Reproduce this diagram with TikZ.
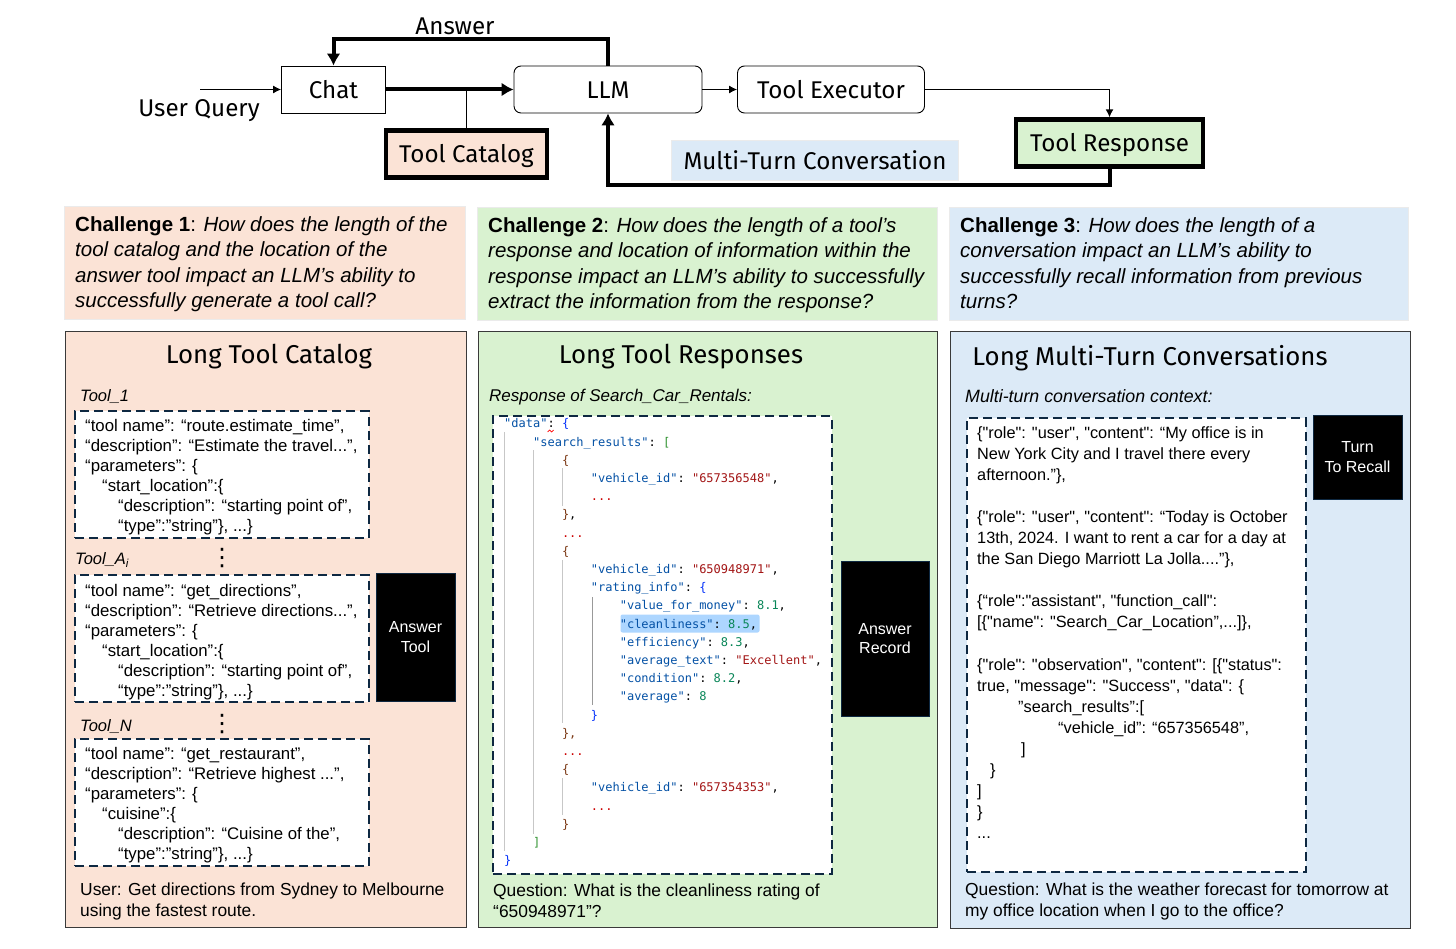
\documentclass[tikz,border=0pt]{standalone}
\usepackage{fontspec}
\setmainfont{Liberation Sans}
\setmonofont{DejaVu Sans Mono}
\newfontfamily\topfont{Fira Sans}
\newfontfamily\convfont{Liberation Sans}
\newfontfamily\dotsfont{DejaVu Sans}
\usetikzlibrary{shapes,arrows.meta}

\definecolor{catalogbg}{HTML}{FBE3D6}
\definecolor{responsebg}{HTML}{D9F2D0}
\definecolor{convbg}{HTML}{DCEAF7}
\definecolor{panelline}{HTML}{3A3A3A}
\definecolor{dashline}{HTML}{0E2841}
\definecolor{jsonkey}{HTML}{0451A5}
\definecolor{jsonstr}{HTML}{A31515}
\definecolor{jsonnum}{HTML}{098658}
\definecolor{jsonbrace}{HTML}{0431FA}
\definecolor{jsonbrown}{HTML}{7B3814}
\definecolor{jsongreen}{HTML}{319331}
\definecolor{jsonhl}{HTML}{ADD6FF}

\newcommand\ind[1]{\hspace*{#1\dimexpr 28.9pt\relax}}
\newcommand\jk[1]{\textcolor{jsonkey}{"#1"}: }
\newcommand\js[1]{\textcolor{jsonstr}{"#1"}}
\newcommand\jn[1]{\textcolor{jsonnum}{#1}}
\newcommand\jdots{\textcolor{red!80!black}{...}}
\newcommand\codeind[1]{\hspace*{#1pt}}

\begin{document}
\begin{tikzpicture}[x=1pt, y=-1pt, node distance=100pt, auto]
        % Define block styles
        \tikzstyle{block} = [rectangle, draw=black, line width=0.9pt, text=black, font=\topfont\fontsize{24.2}{28}\selectfont,
            minimum height=47pt, inner sep=0pt, text height=18pt, text depth=0pt]
        \tikzstyle{roundblock} = [block, rounded corners=7pt]
        \tikzstyle{thickblock} = [block, line width=4.2pt]
        \tikzstyle{panel} = [rectangle, draw=panelline, line width=0.9pt, anchor=north west, inner sep=0pt]
        \tikzstyle{challenge} = [rectangle, draw=black!8, line width=0.4pt, anchor=north west, inner sep=0pt]
        \tikzstyle{challengetext} = [anchor=north west, inner sep=0pt, align=left, font=\fontsize{20.5}{25.35}\selectfont]
        \tikzstyle{title} = [inner sep=0pt, font=\topfont\fontsize{25.8}{30}\selectfont]
        \tikzstyle{dashbox} = [rectangle, draw=dashline, fill=white, dash pattern=on 9pt off 5pt, line width=2.2pt, anchor=north west, inner sep=0pt]
        \tikzstyle{blackbox} = [rectangle, draw=dashline, fill=black, text=white, line width=0.8pt, align=center, inner sep=0pt,
            font=\fontsize{16}{19.5}\selectfont]
        \tikzstyle{toolname} = [anchor=west, inner sep=0pt, font=\itshape\fontsize{16.5}{20}\selectfont]
        \tikzstyle{toolcode} = [anchor=north west, inner sep=0pt, align=left, font=\fontsize{16.8}{20}\selectfont]
        \tikzstyle{convcode} = [anchor=north west, inner sep=0pt, align=left, font=\convfont\fontsize{16.3}{21.1}\selectfont]
        \tikzstyle{question} = [anchor=north west, inner sep=0pt, align=left, font=\fontsize{17.4}{21.3}\selectfont]
        \tikzstyle{vdotsnode} = [inner sep=0pt, font=\dotsfont\fontsize{24}{24}\selectfont]
        \tikzstyle{line} = [draw=black, line width=1pt, -{Latex[length=8pt,width=8pt]}]
        \tikzstyle{thickline} = [draw=black, line width=4pt, -{Latex[length=12pt,width=14pt]}]
        \tikzstyle{guide} = [draw=black!22, line width=1pt]

        \useasboundingbox (0,0) rectangle (1456,949);

        % Top row
        \node [block, minimum width=104pt] at (333.5,89.5) (chat) {Chat};
        \node [roundblock, right of=chat, node distance=274.5pt, minimum width=188pt] (llm) {LLM};
        \node [roundblock, right of=llm, node distance=223pt, minimum width=187pt] (executor) {Tool Executor};
        \node [thickblock, fill=catalogbg, minimum width=161pt, minimum height=47pt] at (466.5,154) (catalog) {Tool Catalog};
        \node [thickblock, fill=responsebg, minimum width=187pt, minimum height=47pt] at (1109.5,143) (response) {Tool Response};
        \node [block, draw=black!8, line width=0.4pt, fill=convbg, minimum width=287pt, minimum height=40pt] at (815,160.5) (multiturn) {Multi-Turn Conversation};
        \node [inner sep=0pt, font=\topfont\fontsize{24.2}{28}\selectfont] at (199,111) (userquery) {User Query};
        \node [inner sep=0pt, font=\topfont\fontsize{24.2}{28}\selectfont] at (455,26) (answer) {Answer};
        \coordinate (querystart) at (200,89.5);
        \coordinate (answertop) at (470,39);
        \coordinate (turnbottom) at (860,185);

        % Challenge boxes
        \node [challenge, fill=catalogbg, minimum width=401pt, minimum height=113pt] at (64,206) (challengeone) {};
        \node [challenge, fill=responsebg, minimum width=460pt, minimum height=113pt] at (477,207) (challengetwo) {};
        \node [challenge, fill=convbg, minimum width=459pt, minimum height=113pt] at (949,207) (challengethree) {};
        \node [challengetext] at (75,216.5) (textone) {\textbf{Challenge 1}: \textit{How does the length of the}\\\textit{tool catalog and the location of the}\\\textit{answer tool impact an LLM’s ability to}\\\textit{successfully generate a tool call?}};
        \node [challengetext] at (488,217.5) (texttwo) {\textbf{Challenge 2}: \textit{How does the length of a tool’s}\\\textit{response and location of information within the}\\\textit{response impact an LLM’s ability to successfully}\\\textit{extract the information from the response?}};
        \node [challengetext] at (960,217.5) (textthree) {\textbf{Challenge 3}: \textit{How does the length of a}\\\textit{conversation impact an LLM’s ability to}\\\textit{successfully recall information from previous}\\\textit{turns?}};

        % Panels
        \node [panel, fill=catalogbg, minimum width=401pt, minimum height=596pt] at (64.5,331) (panelone) {};
        \node [panel, fill=responsebg, minimum width=458.5pt, minimum height=596pt] at (478,331) (paneltwo) {};
        \node [panel, fill=convbg, minimum width=459.5pt, minimum height=597pt] at (950,331) (panelthree) {};
        \node [title] at (269,357) (titleone) {Long Tool Catalog};
        \node [title] at (681,357) (titletwo) {Long Tool Responses};
        \node [title] at (1150,358) (titlethree) {Long Multi-Turn Conversations};

        % Tool catalog panel
        \node [toolname] at (80,397) (toolone) {Tool\_1};
        \node [toolname] at (75,560) (toola) {Tool\_A\textsubscript{i}};
        \node [toolname] at (80,727) (tooln) {Tool\_N};
        \node [vdotsnode] at (222,558) (dotsone) {⋮};
        \node [vdotsnode] at (222,724) (dotstwo) {⋮};
        \node [dashbox, minimum width=293.5pt, minimum height=127pt] at (74,410) (boxone) {};
        \node [dashbox, minimum width=293.5pt, minimum height=127pt] at (74,574) (boxa) {};
        \node [dashbox, minimum width=293.5pt, minimum height=127pt] at (74,738) (boxn) {};
        \node [toolcode] at (85,419) (codeone) {“tool name”: “route.estimate\_time”,\\“description”: “Estimate the travel...”,\\“parameters”: \{\\\codeind{17}“start\_location”:\{\\\codeind{33}“description”: “starting point of”,\\\codeind{33}“type”:”string”\}, ...\}};
        \node [toolcode] at (85,584) (codea) {“tool name”: “get\_directions”,\\“description”: “Retrieve directions...”,\\“parameters”: \{\\\codeind{17}“start\_location”:\{\\\codeind{33}“description”: “starting point of”,\\\codeind{33}“type”:”string”\}, ...\}};
        \node [toolcode] at (85,747) (coden) {“tool name”: “get\_restaurant”,\\“description”: “Retrieve highest ...”,\\“parameters”: \{\\\codeind{17}“cuisine”:\{\\\codeind{33}“description”: “Cuisine of the”,\\\codeind{33}“type”:”string”\}, ...\}};
        \node [blackbox, minimum width=79pt, minimum height=128pt] at (415.5,637) (answertool) {Answer\\Tool};
        \node [question] at (80,882.5) (questionone) {User: Get directions from Sydney to Melbourne\\using the fastest route.};

        % Tool response panel
        \node [toolname, font=\itshape\fontsize{17}{20}\selectfont] at (489,397) (responselabel) {Response of Search\_Car\_Rentals:};
        \node [dashbox, minimum width=338.5pt, minimum height=458pt] at (492,415) (boxresponse) {};
        \node [rectangle, fill=jsonhl, rounded corners=2pt, minimum width=139pt, minimum height=18pt, inner sep=0pt] at (690,623.5) (highlight) {};
        \foreach \gx/\gfrom/\gto/\gname in {504/432/851/a, 533/450/834/b, 562.5/468/506/c, 562.5/560/723/d, 562.5/778/815/e} {
            \coordinate (\gname top) at (\gx,\gfrom);
            \coordinate (\gname bottom) at (\gx,\gto);
            \draw [guide] (\gname top) -- (\gname bottom);
        }
        \coordinate (ftop) at (592,597);
        \coordinate (fbottom) at (592,705);
        \draw [draw=black!40, line width=1pt] (ftop) -- (fbottom);
        \draw [red, line width=0.7pt] (547.5,432) -- (549.5,430) -- (551.5,432) -- (553.5,430);
        \node [anchor=north west, inner sep=0pt, align=left, font=\ttfamily\fontsize{12}{18.2}\selectfont] at (504,418.5) (json) {%
            \jk{data}\textcolor{jsonbrace}{\{}\\
            \ind{1}\jk{search\_results}\textcolor{jsongreen}{[}\\
            \ind{2}\textcolor{jsonbrown}{\{}\\
            \ind{3}\jk{vehicle\_id}\js{657356548},\\
            \ind{3}\jdots\\
            \ind{2}\textcolor{jsonbrown}{\}},\\
            \ind{2}\jdots\\
            \ind{2}\textcolor{jsonbrown}{\{}\\
            \ind{3}\jk{vehicle\_id}\js{650948971},\\
            \ind{3}\jk{rating\_info}\textcolor{jsonbrace}{\{}\\
            \ind{4}\jk{value\_for\_money}\jn{8.1},\\
            \ind{4}\jk{cleanliness}\jn{8.5},\\
            \ind{4}\jk{efficiency}\jn{8.3},\\
            \ind{4}\jk{average\_text}\js{Excellent},\\
            \ind{4}\jk{condition}\jn{8.2},\\
            \ind{4}\jk{average}\jn{8}\\
            \ind{3}\textcolor{jsonbrace}{\}}\\
            \ind{2}\textcolor{jsonbrown}{\},}\\
            \ind{2}\jdots\\
            \ind{2}\textcolor{jsonbrown}{\{}\\
            \ind{3}\jk{vehicle\_id}\js{657354353},\\
            \ind{3}\jdots\\
            \ind{2}\textcolor{jsonbrown}{\}}\\
            \ind{1}\textcolor{jsongreen}{]}\\
            \textcolor{jsonbrace}{\}}};
        \node [blackbox, minimum width=88pt, minimum height=155pt] at (885,638.5) (answerrecord) {Answer\\Record};
        \node [question] at (493,883.5) (questiontwo) {Question: What is the cleanliness rating of\\“650948971”?};

        % Conversation panel
        \node [toolname, font=\itshape\fontsize{17.8}{20}\selectfont] at (965,396) (convlabel) {Multi-turn conversation context:};
        \node [dashbox, minimum width=338.5pt, minimum height=454pt] at (966,417) (boxconv) {};
        \node [convcode] at (977,426) (conv) {\{"role": "user", "content": “My office is in\\New York City and I travel there every\\afternoon.”\},\\[21.1pt]\{"role": "user", "content": “Today is October\\13th, 2024. I want to rent a car for a day at\\the San Diego Marriott La Jolla....”\},\\[21.1pt]\{“role":"assistant", "function\_call":\\{[}\{"name": "Search\_Car\_Location”,...{]}\},\\[21.1pt]\{"role": "observation", "content": {[}\{"status":\\true, "message": "Success", "data": \{\\\codeind{41}”search\_results”:[\\\codeind{81}“vehicle\_id”: “657356548”,\\\codeind{44}]\\\codeind{13}\}\\{]}\\\}\\...};
        \node [blackbox, minimum width=89pt, minimum height=84pt] at (1357.5,457) (turnrecall) {Turn\\To Recall};
        \node [question] at (965,882.5) (questionthree) {Question: What is the weather forecast for tomorrow at\\my office location when I go to the office?};

        % Arrows
        \path [line] (querystart) -- (chat.west);
        \path [thickline] (chat.east) -- (llm.west);
        \draw [draw=black, line width=1pt] (catalog.north) -- (catalog.north |- chat.east);
        \path [line] (llm.east) -- (executor.west);
        \path [line, line width=1.5pt] (executor.east) -| (response.north);
        \path [thickline] (llm.north) |- (answertop) -| (chat.north);
        \path [thickline] (response.south) |- (turnbottom) -| (llm.south);
    \end{tikzpicture}
\end{document}
